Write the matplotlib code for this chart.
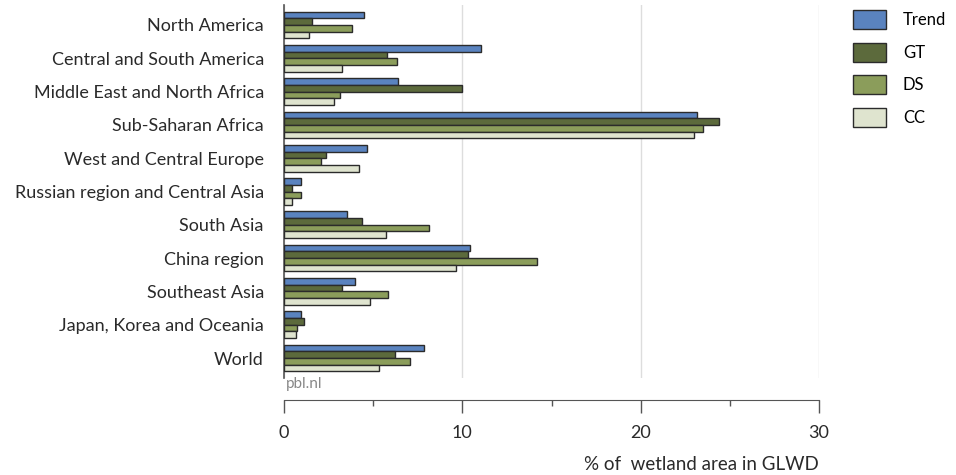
import matplotlib
matplotlib.use("Agg")
import matplotlib.pyplot as plt
import numpy as np
from matplotlib.ticker import MultipleLocator

regions = ["North America", "Central and South America", "Middle East and North Africa",
           "Sub-Saharan Africa", "West and Central Europe", "Russian region and Central Asia",
           "South Asia", "China region", "Southeast Asia", "Japan, Korea and Oceania", "World"]

trend = [4.5, 11.06, 6.4, 23.14, 4.66, 0.93, 3.56, 10.45, 3.96, 0.93, 7.84]
gt = [1.57, 5.75, 9.98, 24.41, 2.37, 0.43, 4.38, 10.3, 3.23, 1.14, 6.23]
ds = [3.79, 6.36, 3.13, 23.51, 2.07, 0.93, 8.15, 14.2, 5.82, 0.73, 7.09]
cc = [1.42, 3.26, 2.8, 22.99, 4.22, 0.45, 5.73, 9.66, 4.85, 0.69, 5.34]

series = [("Trend", trend, "#5a83bf"),
          ("GT", gt, "#5c6a3c"),
          ("DS", ds, "#8b9d5b"),
          ("CC", cc, "#dfe4cf")]

plt.rcParams['font.family'] = ['Lato', 'DejaVu Sans']

fig = plt.figure(figsize=(9.56, 4.75), dpi=100)
ax = fig.add_axes([284 / 956, 97 / 475, 535 / 956, 373 / 475])

y = np.arange(len(regions))
h = 0.2
handles = []
for i, (name, vals, col) in enumerate(series):
    b = ax.barh(y - 0.3 + i * h, vals, height=h, color=col, edgecolor="#2b2b2b",
                linewidth=1.0, label=name, zorder=3)
    handles.append(b)

ax.set_xlim(0, 30)
ax.set_ylim(10.6, -0.6)
ax.set_yticks(y)
ax.set_yticklabels(regions, fontsize=13, color="#2a2a2a")
ax.tick_params(axis='y', length=0, pad=14.5)

ax.xaxis.set_major_locator(MultipleLocator(10))
ax.xaxis.set_minor_locator(MultipleLocator(5))
ax.tick_params(axis='x', which='major', length=9, width=1, color="#555555",
               labelsize=13, labelcolor="#2a2a2a", pad=9)
ax.tick_params(axis='x', which='minor', length=4.5, width=1, color="#555555")
ax.grid(axis='x', which='major', color="#dddddd", linewidth=1, zorder=0)

for s in ['top', 'right']:
    ax.spines[s].set_visible(False)
ax.spines['left'].set_color("#555555")
ax.spines['left'].set_linewidth(1.2)
ax.spines['bottom'].set_position(('outward', 16))
ax.spines['bottom'].set_color("#555555")

ax.set_xlabel("% of  wetland area in GLWD", loc='right', fontsize=13.5,
              color="#2a2a2a", labelpad=11)
fig.text(286 / 956, 1 - 384 / 475, "pbl.nl", fontsize=11, color="#888888", va='center')

fig.legend(handles, [s[0] for s in series], loc='upper left',
           bbox_to_anchor=(853 / 956, 1 - 10 / 475), frameon=False,
           fontsize=12, handlelength=1.95, handleheight=1.4, labelspacing=0.8,
           handletextpad=1.05, borderpad=0, borderaxespad=0)

fig.savefig("out.png", dpi=100)
